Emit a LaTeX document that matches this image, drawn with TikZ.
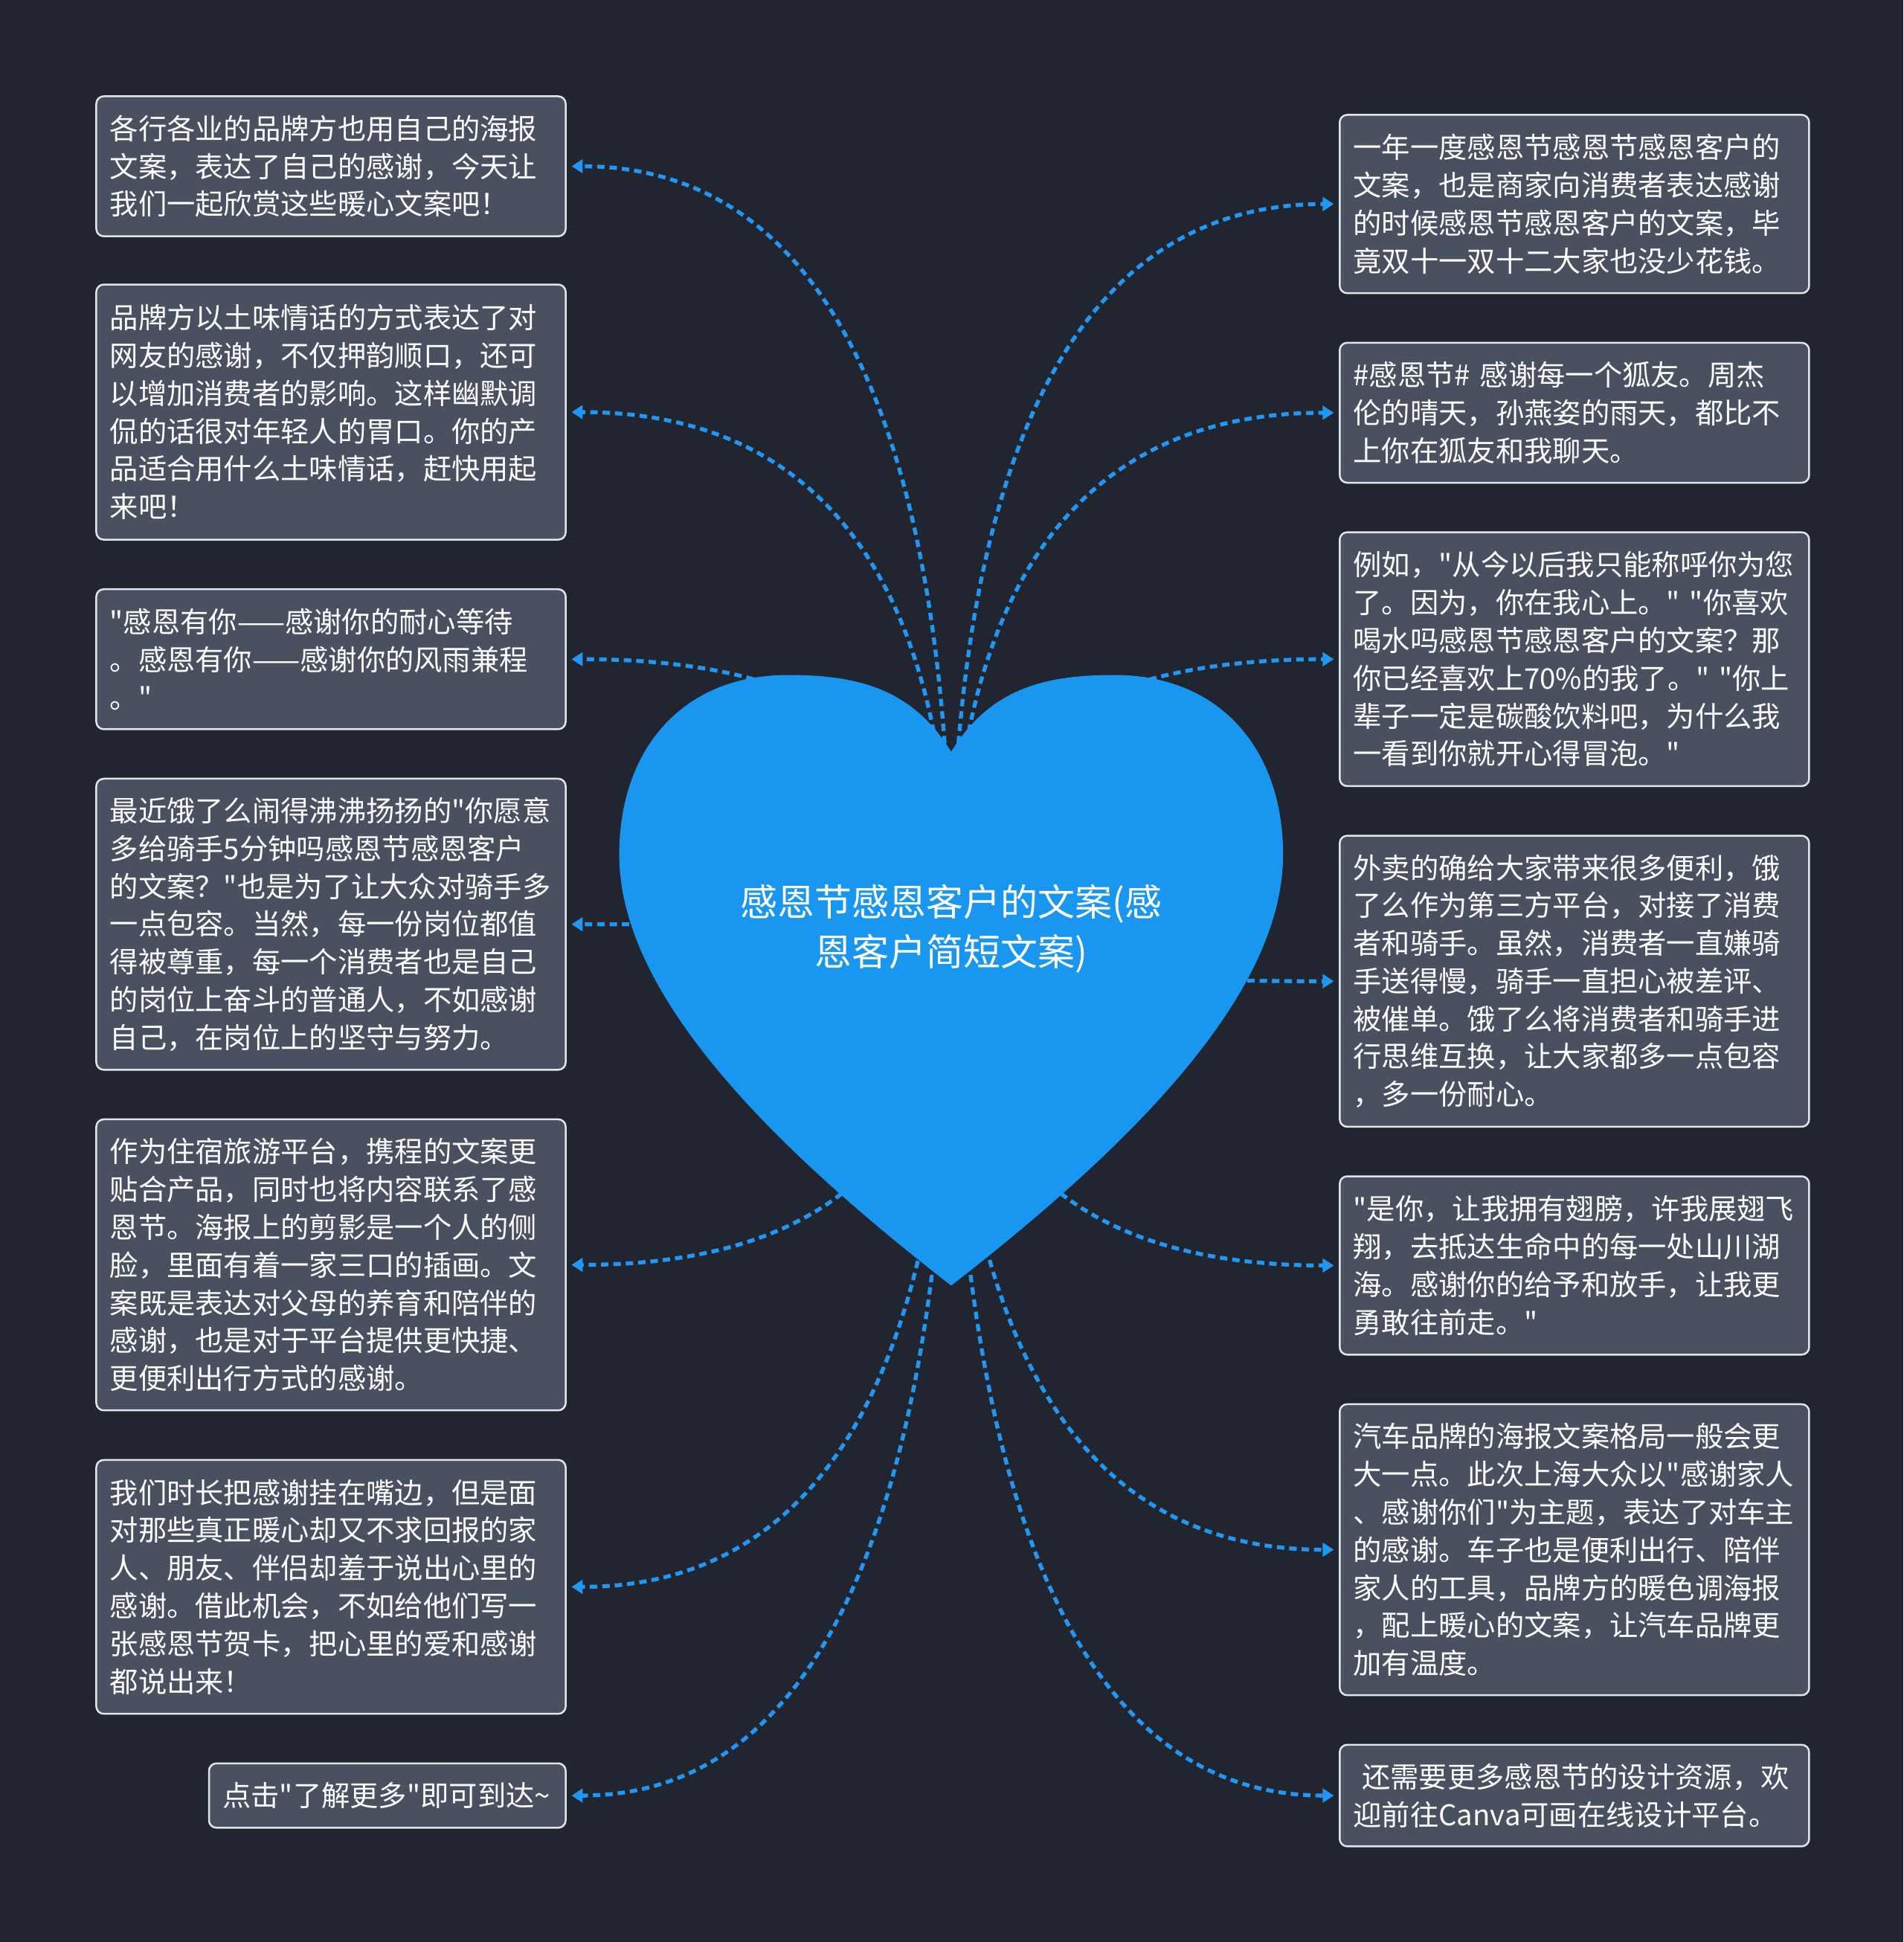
\documentclass[tikz,border=0pt]{standalone}
\usepackage{fontspec}
\newfontfamily\cjk{Noto Sans CJK SC}
\usetikzlibrary{arrows.meta,calc}
\definecolor{bgcol}{HTML}{212530}
\definecolor{boxfill}{HTML}{495060}
\definecolor{boxline}{HTML}{E2E5EA}
\definecolor{heartcol}{HTML}{1996F0}
\definecolor{conncol}{HTML}{2196F3}
\tikzset{
  box/.style={draw=boxline, line width=0.75pt, fill=boxfill, rounded corners=3pt,
    text=white, font=\cjk\fontsize{11.5pt}{15.25pt}\selectfont, align=left,
    text width=178.5pt, inner xsep=5.5pt, inner ysep=0pt, anchor=north west},
  conn/.style={draw=conncol, line width=1.6pt, dash pattern=on 3pt off 2pt,
    shorten >=2pt, -{Triangle[length=4.5pt,width=5.5pt]}},
  rootlabel/.style={text=white, font=\cjk\fontsize{15pt}{20pt}\selectfont, align=center, inner sep=0pt}
}
\begin{document}
\begin{tikzpicture}[x=0.5pt,y=-0.5pt]
\fill[bgcol] (0,0) rectangle (1537,1568);
\useasboundingbox (0,0) rectangle (1537,1568);
\coordinate (hc) at (768,750);
% left boxes
\node[box, minimum height=56.5pt] (L1) at (77,77) {各行各业的品牌方也用自己的海报\\文案，表达了自己的感谢，今天让\\我们一起欣赏这些暖心文案吧！};
\node[box, minimum height=103pt] (L2) at (77,229) {品牌方以土味情话的方式表达了对\\网友的感谢，不仅押韵顺口，还可\\以增加消费者的影响。这样幽默调\\侃的话很对年轻人的胃口。你的产\\品适合用什么土味情话，赶快用起\\来吧！};
\node[box, minimum height=56.5pt] (L3) at (77,475) {"感恩有你——感谢你的耐心等待\\。感恩有你——感谢你的风雨兼程\\。"};
\node[box, minimum height=117.5pt] (L4) at (77,628) {最近饿了么闹得沸沸扬扬的"你愿意\\多给骑手5分钟吗感恩节感恩客户\\的文案？"也是为了让大众对骑手多\\一点包容。当然，每一份岗位都值\\得被尊重，每一个消费者也是自己\\的岗位上奋斗的普通人，不如感谢\\自己，在岗位上的坚守与努力。};
\node[box, minimum height=117.5pt] (L5) at (77,903) {作为住宿旅游平台，携程的文案更\\贴合产品，同时也将内容联系了感\\恩节。海报上的剪影是一个人的侧\\脸，里面有着一家三口的插画。文\\案既是表达对父母的养育和陪伴的\\感谢，也是对于平台提供更快捷、\\更便利出行方式的感谢。};
\node[box, minimum height=102.5pt] (L6) at (77,1178) {我们时长把感谢挂在嘴边，但是面\\对那些真正暖心却又不求回报的家\\人、朋友、伴侣却羞于说出心里的\\感谢。借此机会，不如给他们写一\\张感恩节贺卡，把心里的爱和感谢\\都说出来！};
\node[box, minimum height=26pt, text width=133pt] (L7) at (168,1423) {点击"了解更多"即可到达\textasciitilde};
% right boxes
\node[box, minimum height=72pt] (R1) at (1081,92) {一年一度感恩节感恩节感恩客户的\\文案，也是商家向消费者表达感谢\\的时候感恩节感恩客户的文案，毕\\竟双十一双十二大家也没少花钱。};
\node[box, minimum height=56.5pt] (R2) at (1081,276) {\#感恩节\# 感谢每一个狐友。周杰\\伦的晴天，孙燕姿的雨天，都比不\\上你在狐友和我聊天。};
\node[box, minimum height=102.5pt] (R3) at (1081,429) {例如，"从今以后我只能称呼你为您\\了。因为，你在我心上。" "你喜欢\\喝水吗感恩节感恩客户的文案？那\\你已经喜欢上70\%的我了。" "你上\\辈子一定是碳酸饮料吧，为什么我\\一看到你就开心得冒泡。"};
\node[box, minimum height=117.5pt] (R4) at (1081,674) {外卖的确给大家带来很多便利，饿\\了么作为第三方平台，对接了消费\\者和骑手。虽然，消费者一直嫌骑\\手送得慢，骑手一直担心被差评、\\被催单。饿了么将消费者和骑手进\\行思维互换，让大家都多一点包容\\，多一份耐心。};
\node[box, minimum height=72pt] (R5) at (1081,949) {"是你，让我拥有翅膀，许我展翅飞\\翔，去抵达生命中的每一处山川湖\\海。感谢你的给予和放手，让我更\\勇敢往前走。"};
\node[box, minimum height=117.5pt] (R6) at (1081,1133) {汽车品牌的海报文案格局一般会更\\大一点。此次上海大众以"感谢家人\\、感谢你们"为主题，表达了对车主\\的感谢。车子也是便利出行、陪伴\\家人的工具，品牌方的暖色调海报\\，配上暖心的文案，让汽车品牌更\\加有温度。};
\node[box, minimum height=41pt] (R7) at (1081,1408) {\hspace*{3.5pt}还需要更多感恩节的设计资源，欢\\迎前往Canva可画在线设计平台。};
% connectors (drawn under the heart)
\foreach \n in {L1,L2,L3,L4,L5,L6,L7}
  \draw[conn] (hc) .. controls ($(hc)!0.6667!(hc |- \n.east)$) and ($(\n.east)!0.6667!(hc |- \n.east)$) .. (\n.east);
\foreach \n in {R1,R2,R3,R4,R5,R6,R7}
  \draw[conn] (hc) .. controls ($(hc)!0.6667!(hc |- \n.west)$) and ($(\n.west)!0.6667!(hc |- \n.west)$) .. (\n.west);
% heart
\fill[heartcol] (768,607) .. controls (800,555) and (845,545) .. (900,545)
  .. controls (985,545) and (1036,605) .. (1036,690)
  .. controls (1036,800) and (920,920) .. (768,1038)
  .. controls (616,920) and (500,800) .. (500,690)
  .. controls (500,605) and (551,545) .. (636,545)
  .. controls (691,545) and (736,555) .. (768,607) -- cycle;
\node[rootlabel] (root) at (768,750) {感恩节感恩客户的文案(感\\恩客户简短文案)};
\end{tikzpicture}
\end{document}
